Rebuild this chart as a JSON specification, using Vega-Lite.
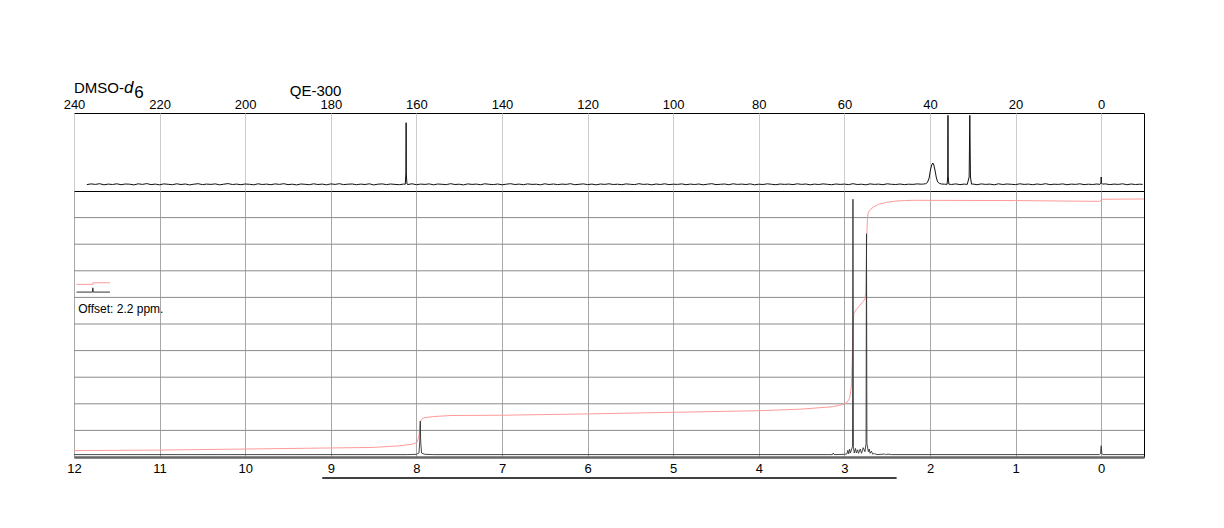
{
"$schema": "https://vega.github.io/schema/vega-lite/v6.json",
"autosize": {"type": "pad"},
"padding": {"left": 62, "top": 78, "right": 5, "bottom": 5},
"background": "white",
"config": {"view": {"stroke": "#000", "strokeWidth": 1}, "font": "Liberation Sans", "axis": {"labelFont": "Liberation Sans", "labelColor": "#000"}, "text": {"font": "Liberation Sans"}},
"spacing": 0,
"bounds": "flush",
"datasets": {
"c13": [
{"c":237,"i":6.4},{"c":236,"i":7.1},{"c":235,"i":6.6},{"c":234,"i":7.3},{"c":233,"i":6.2},{"c":232,"i":6.9},{"c":231,"i":6.5},{"c":230,"i":7.2},{"c":229,"i":6.3},{"c":228,"i":7.0},
{"c":227,"i":6.8},{"c":226,"i":6.1},{"c":225,"i":7.2},{"c":224,"i":6.6},{"c":223,"i":7.4},{"c":222,"i":6.4},{"c":221,"i":6.9},{"c":220,"i":6.2},{"c":219,"i":7.1},{"c":218,"i":6.7},
{"c":217,"i":6.3},{"c":216,"i":7.2},{"c":215,"i":6.5},{"c":214,"i":7.0},{"c":213,"i":6.1},{"c":212,"i":6.8},{"c":211,"i":7.3},{"c":210,"i":6.4},{"c":209,"i":6.9},{"c":208,"i":6.6},
{"c":207,"i":7.1},{"c":206,"i":6.2},{"c":205,"i":6.8},{"c":204,"i":7.4},{"c":203,"i":6.5},{"c":202,"i":6.9},{"c":201,"i":6.3},{"c":200,"i":7.0},{"c":199,"i":6.7},{"c":198,"i":6.2},
{"c":197,"i":7.2},{"c":196,"i":6.5},{"c":195,"i":6.9},{"c":194,"i":6.3},{"c":193,"i":7.1},{"c":192,"i":6.6},{"c":191,"i":7.3},{"c":190,"i":6.4},{"c":189,"i":6.8},{"c":188,"i":6.1},
{"c":187,"i":7.0},{"c":186,"i":6.7},{"c":185,"i":6.3},{"c":184,"i":7.2},{"c":183,"i":6.5},{"c":182,"i":6.9},{"c":181,"i":6.2},{"c":180,"i":7.1},{"c":179,"i":6.6},{"c":178,"i":7.3},
{"c":177,"i":6.4},{"c":176,"i":6.8},{"c":175,"i":7.0},{"c":174,"i":6.3},{"c":173,"i":6.9},{"c":172,"i":6.5},{"c":171,"i":7.2},{"c":170,"i":6.1},{"c":169,"i":6.8},{"c":168,"i":7.1},
{"c":167,"i":6.4},{"c":166,"i":7.0},{"c":165,"i":6.6},{"c":164,"i":6.3},{"c":163,"i":6.9},
{"c":162.6,"i":6.8},{"c":162.45,"i":18},{"c":162.4,"i":68.3},{"c":162.35,"i":16},{"c":162.2,"i":6.9},
{"c":162,"i":6.5},{"c":161,"i":7.2},{"c":160,"i":6.3},{"c":159,"i":6.9},{"c":158,"i":6.6},{"c":157,"i":7.1},{"c":156,"i":6.2},{"c":155,"i":7.0},{"c":154,"i":6.7},{"c":153,"i":6.4},
{"c":152,"i":7.3},{"c":151,"i":6.5},{"c":150,"i":6.8},{"c":149,"i":6.1},{"c":148,"i":7.1},{"c":147,"i":6.6},{"c":146,"i":6.9},{"c":145,"i":6.3},{"c":144,"i":7.2},{"c":143,"i":6.7},
{"c":142,"i":6.4},{"c":141,"i":7.0},{"c":140,"i":6.2},{"c":139,"i":6.8},{"c":138,"i":7.3},{"c":137,"i":6.5},{"c":136,"i":6.9},{"c":135,"i":6.3},{"c":134,"i":7.1},{"c":133,"i":6.6},
{"c":132,"i":6.8},{"c":131,"i":6.2},{"c":130,"i":7.2},{"c":129,"i":6.5},{"c":128,"i":7.0},{"c":127,"i":6.4},{"c":126,"i":6.9},{"c":125,"i":6.6},{"c":124,"i":7.3},{"c":123,"i":6.3},
{"c":122,"i":6.7},{"c":121,"i":7.1},{"c":120,"i":6.4},{"c":119,"i":6.9},{"c":118,"i":6.2},{"c":117,"i":7.0},{"c":116,"i":6.6},{"c":115,"i":7.2},{"c":114,"i":6.5},{"c":113,"i":6.8},
{"c":112,"i":6.3},{"c":111,"i":7.1},{"c":110,"i":6.7},{"c":109,"i":6.4},{"c":108,"i":7.3},{"c":107,"i":6.6},{"c":106,"i":6.9},{"c":105,"i":6.2},{"c":104,"i":7.0},{"c":103,"i":6.5},
{"c":102,"i":7.2},{"c":101,"i":6.4},{"c":100,"i":6.8},{"c":99,"i":6.6},{"c":98,"i":7.1},{"c":97,"i":6.3},{"c":96,"i":6.9},{"c":95,"i":6.5},{"c":94,"i":7.0},{"c":93,"i":6.2},
{"c":92,"i":6.8},{"c":91,"i":7.3},{"c":90,"i":6.4},{"c":89,"i":6.7},{"c":88,"i":7.0},{"c":87,"i":6.3},{"c":86,"i":7.2},{"c":85,"i":6.6},{"c":84,"i":6.9},{"c":83,"i":6.5},
{"c":82,"i":7.1},{"c":81,"i":6.2},{"c":80,"i":6.8},{"c":79,"i":6.5},{"c":78,"i":7.2},{"c":77,"i":6.7},{"c":76,"i":6.3},{"c":75,"i":7.0},{"c":74,"i":6.6},{"c":73,"i":6.9},
{"c":72,"i":6.4},{"c":71,"i":7.2},{"c":70,"i":6.6},{"c":69,"i":7.0},{"c":68,"i":6.2},{"c":67,"i":6.9},{"c":66,"i":6.5},{"c":65,"i":7.1},{"c":64,"i":6.7},{"c":63,"i":6.3},
{"c":62,"i":7.0},{"c":61,"i":6.6},{"c":60,"i":6.9},{"c":59,"i":6.4},{"c":58,"i":7.3},{"c":57,"i":6.5},{"c":56,"i":6.8},{"c":55,"i":6.2},{"c":54,"i":7.1},{"c":53,"i":6.6},
{"c":52,"i":6.9},{"c":51,"i":6.3},{"c":50,"i":7.2},{"c":49,"i":6.7},{"c":48,"i":6.5},{"c":47,"i":7.0},{"c":46,"i":6.4},{"c":45,"i":6.8},{"c":44,"i":6.6},{"c":43,"i":7.1},
{"c":42,"i":6.8},
{"c":41.5,"i":7.0},{"c":41,"i":7.3},{"c":40.6,"i":8.5},{"c":40.2,"i":13},{"c":39.9,"i":21},{"c":39.6,"i":26},{"c":39.35,"i":28},{"c":39.1,"i":26},{"c":38.8,"i":20},{"c":38.5,"i":13},{"c":38.2,"i":9},{"c":37.8,"i":7.6},{"c":37.3,"i":7.0},{"c":36.6,"i":6.8},
{"c":36.0,"i":6.7},{"c":35.85,"i":15},{"c":35.8,"i":75.7},{"c":35.75,"i":15},{"c":35.6,"i":6.9},
{"c":35,"i":6.5},{"c":34,"i":7.1},{"c":33,"i":6.4},{"c":32,"i":6.9},{"c":31.3,"i":6.6},{"c":30.85,"i":14},{"c":30.7,"i":75.7},{"c":30.55,"i":14},{"c":30.3,"i":6.8},{"c":30,"i":7.0},
{"c":29,"i":6.3},{"c":28,"i":7.1},{"c":27,"i":6.6},{"c":26,"i":6.9},{"c":25,"i":6.2},{"c":24,"i":7.2},{"c":23,"i":6.5},{"c":22,"i":7.0},{"c":21,"i":6.7},{"c":20,"i":6.4},
{"c":19,"i":7.2},{"c":18,"i":6.6},{"c":17,"i":6.9},{"c":16,"i":6.3},{"c":15,"i":7.0},{"c":14,"i":6.5},{"c":13,"i":7.3},{"c":12,"i":6.4},{"c":11,"i":6.8},{"c":10,"i":6.6},
{"c":9,"i":7.1},{"c":8,"i":6.3},{"c":7,"i":6.9},{"c":6,"i":6.6},{"c":5,"i":7.2},{"c":4,"i":6.4},{"c":3,"i":6.8},{"c":2,"i":6.5},{"c":1,"i":7.0},
{"c":0.3,"i":6.6},{"c":0.05,"i":8},{"c":0,"i":14},{"c":-0.05,"i":8},{"c":-0.3,"i":6.9},
{"c":-1,"i":7.1},{"c":-2,"i":6.4},{"c":-3,"i":6.9},{"c":-4,"i":6.6},{"c":-5,"i":7.2},{"c":-6,"i":6.3},{"c":-7,"i":7.0},{"c":-8,"i":6.5},{"c":-9,"i":6.8},{"c":-9.7,"i":6.6}
],
"h1": [
{"h":12,"s":0.09},{"h":10,"s":0.09},{"h":8.1,"s":0.09},{"h":8.0,"s":0.1},{"h":7.97,"s":0.15},{"h":7.96,"s":0.6},{"h":7.955,"s":1.35},{"h":7.95,"s":0.6},{"h":7.94,"s":0.15},{"h":7.9,"s":0.1},{"h":7.8,"s":0.09},
{"h":3.2,"s":0.09},{"h":3.14,"s":0.09},{"h":3.13,"s":0.15},{"h":3.12,"s":0.09},{"h":3.0,"s":0.1},{"h":2.97,"s":0.12},{"h":2.96,"s":0.25},{"h":2.95,"s":0.12},{"h":2.94,"s":0.3},{"h":2.93,"s":0.15},{"h":2.915,"s":0.3},
{"h":2.905,"s":0.4},{"h":2.90,"s":9.69},{"h":2.895,"s":0.4},{"h":2.885,"s":0.15},{"h":2.87,"s":0.32},{"h":2.86,"s":0.15},{"h":2.845,"s":0.27},{"h":2.835,"s":0.14},{"h":2.815,"s":0.3},{"h":2.80,"s":0.14},{"h":2.78,"s":0.35},{"h":2.76,"s":0.2},
{"h":2.747,"s":0.5},{"h":2.742,"s":8.39},{"h":2.737,"s":0.5},{"h":2.72,"s":0.2},{"h":2.71,"s":0.3},{"h":2.70,"s":0.14},{"h":2.685,"s":0.22},{"h":2.67,"s":0.11},{"h":2.65,"s":0.13},{"h":2.62,"s":0.09},{"h":2.53,"s":0.11},{"h":2.52,"s":0.09},{"h":2.49,"s":0.11},{"h":2.45,"s":0.09},
{"h":0.02,"s":0.09},{"h":0.008,"s":0.12},{"h":0.0,"s":0.42},{"h":-0.008,"s":0.12},{"h":-0.02,"s":0.09},{"h":-0.5,"s":0.09}
],
"integ": [
{"h":12,"g":0.24},{"h":11,"g":0.26},{"h":10.5,"g":0.28},{"h":10,"g":0.3},{"h":9.5,"g":0.32},{"h":9,"g":0.34},{"h":8.5,"g":0.36},{"h":8.2,"g":0.42},{"h":8.05,"g":0.48},{"h":7.99,"g":0.55},{"h":7.97,"g":0.8},{"h":7.96,"g":1.1},{"h":7.95,"g":1.35},{"h":7.93,"g":1.45},{"h":7.9,"g":1.48},{"h":7.8,"g":1.52},{"h":7.6,"g":1.56},
{"h":7.0,"g":1.57},{"h":6.0,"g":1.62},{"h":5.0,"g":1.68},{"h":4.0,"g":1.74},{"h":3.5,"g":1.8},{"h":3.14,"g":1.89},{"h":3.02,"g":1.97},{"h":2.97,"g":2.05},{"h":2.94,"g":2.2},{"h":2.92,"g":2.6},{"h":2.91,"g":3.5},{"h":2.90,"g":4.8},{"h":2.89,"g":5.4},{"h":2.86,"g":5.55},{"h":2.82,"g":5.7},{"h":2.78,"g":5.85},{"h":2.76,"g":5.95},{"h":2.75,"g":6.2},{"h":2.745,"g":7.0},{"h":2.74,"g":8.0},{"h":2.735,"g":8.6},{"h":2.73,"g":9.0},{"h":2.72,"g":9.2},{"h":2.69,"g":9.32},{"h":2.66,"g":9.4},{"h":2.6,"g":9.5},{"h":2.5,"g":9.58},{"h":2.4,"g":9.62},{"h":2.3,"g":9.64},{"h":2.2,"g":9.65},{"h":1.0,"g":9.64},{"h":0.02,"g":9.61},{"h":0.0,"g":9.66},{"h":-0.02,"g":9.69},{"h":-0.5,"g":9.7}
],
"hgrid": [{"g":1},{"g":2},{"g":3},{"g":4},{"g":5},{"g":6},{"g":7},{"g":8},{"g":9}]
},
"vconcat": [
{
"width": 1070, "height": 78,
"layer": [
{"data": {"name": "c13"}, "mark": {"type": "line", "color": "#111", "strokeWidth": 1, "clip": true},
 "encoding": {
  "x": {"field": "c", "type": "quantitative", "scale": {"domain": [-10, 240], "reverse": true, "nice": false, "zero": false},
        "axis": {"orient": "top", "values": [240,220,200,180,160,140,120,100,80,60,40,20,0], "format": "d", "title": null, "ticks": false, "domain": false, "labelFontSize": 13, "labelPadding": 2, "grid": true, "gridColor": "#cccccc", "labelFlush": false}},
  "y": {"field": "i", "type": "quantitative", "scale": {"domain": [0, 78], "nice": false, "zero": false}, "axis": null}}},
{"data": {"values": [{"c": 240, "i": 98.3, "t": "DMSO-"}, {"c": 189.6, "i": 95.5, "t": "QE-300"}]},
 "mark": {"type": "text", "align": "left", "baseline": "alphabetic", "fontSize": 15, "color": "#000"},
 "encoding": {"x": {"field": "c", "type": "quantitative"}, "y": {"field": "i", "type": "quantitative"}, "text": {"field": "t"}}},
{"data": {"values": [{"c": 228.3, "i": 98.3, "t": "d"}]},
 "mark": {"type": "text", "align": "left", "baseline": "alphabetic", "fontSize": 17, "fontStyle": "italic", "color": "#000"},
 "encoding": {"x": {"field": "c", "type": "quantitative"}, "y": {"field": "i", "type": "quantitative"}, "text": {"field": "t"}}},
{"data": {"values": [{"c": 225.9, "i": 93.5, "t": "6"}]},
 "mark": {"type": "text", "align": "left", "baseline": "alphabetic", "fontSize": 17, "color": "#000"},
 "encoding": {"x": {"field": "c", "type": "quantitative"}, "y": {"field": "i", "type": "quantitative"}, "text": {"field": "t"}}}
]
},
{
"width": 1070, "height": 266,
"layer": [
{"data": {"name": "hgrid"}, "mark": {"type": "rule", "color": "#8a8a8a", "strokeWidth": 1},
 "encoding": {"y": {"field": "g", "type": "quantitative", "scale": {"domain": [0, 10], "nice": false, "zero": false}, "axis": null}}},
{"data": {"name": "integ"}, "mark": {"type": "line", "color": "#ff9a9a", "strokeWidth": 1, "clip": true},
 "encoding": {
  "x": {"field": "h", "type": "quantitative", "scale": {"domain": [-0.5, 12], "reverse": true, "nice": false, "zero": false},
        "axis": {"orient": "bottom", "values": [12,11,10,9,8,7,6,5,4,3,2,1,0], "format": "d", "title": null, "ticks": false, "domain": true, "domainColor": "#666", "domainWidth": 2.5, "labelFontSize": 13, "labelPadding": 5, "grid": true, "gridColor": "#a8a8a8", "labelFlush": false}},
  "y": {"field": "g", "type": "quantitative"}}},
{"data": {"name": "h1"}, "mark": {"type": "line", "color": "#333", "strokeWidth": 0.9, "clip": true},
 "encoding": {"x": {"field": "h", "type": "quantitative"}, "y": {"field": "s", "type": "quantitative"}}},
{"data": {"values": [{"h": 11.97, "g": 6.49, "o": 1}, {"h": 11.78, "g": 6.49, "o": 2}, {"h": 11.78, "g": 6.55, "o": 3}, {"h": 11.58, "g": 6.55, "o": 4}]},
 "mark": {"type": "line", "color": "#ff9a9a", "strokeWidth": 1},
 "encoding": {"x": {"field": "h", "type": "quantitative"}, "y": {"field": "g", "type": "quantitative"}, "order": {"field": "o"}}},
{"data": {"values": [{"h": 11.97, "g": 6.2, "o": 1}, {"h": 11.785, "g": 6.2, "o": 2}, {"h": 11.78, "g": 6.36, "o": 3}, {"h": 11.775, "g": 6.2, "o": 4}, {"h": 11.58, "g": 6.2, "o": 5}]},
 "mark": {"type": "line", "color": "#333", "strokeWidth": 1},
 "encoding": {"x": {"field": "h", "type": "quantitative"}, "y": {"field": "g", "type": "quantitative"}, "order": {"field": "o"}}},
{"data": {"values": [{"h": 11.95, "g": 5.56, "t": "Offset: 2.2 ppm."}]},
 "mark": {"type": "text", "align": "left", "baseline": "middle", "fontSize": 12, "color": "#000"},
 "encoding": {"x": {"field": "h", "type": "quantitative"}, "y": {"field": "g", "type": "quantitative"}, "text": {"field": "t"}}},
{"data": {"values": [{"h": 9.1, "h2": 2.39, "g": -0.79}]},
 "mark": {"type": "rule", "color": "#000", "strokeWidth": 1.5},
 "encoding": {"x": {"field": "h", "type": "quantitative"}, "x2": {"field": "h2"}, "y": {"field": "g", "type": "quantitative"}}}
]
}
]
}
